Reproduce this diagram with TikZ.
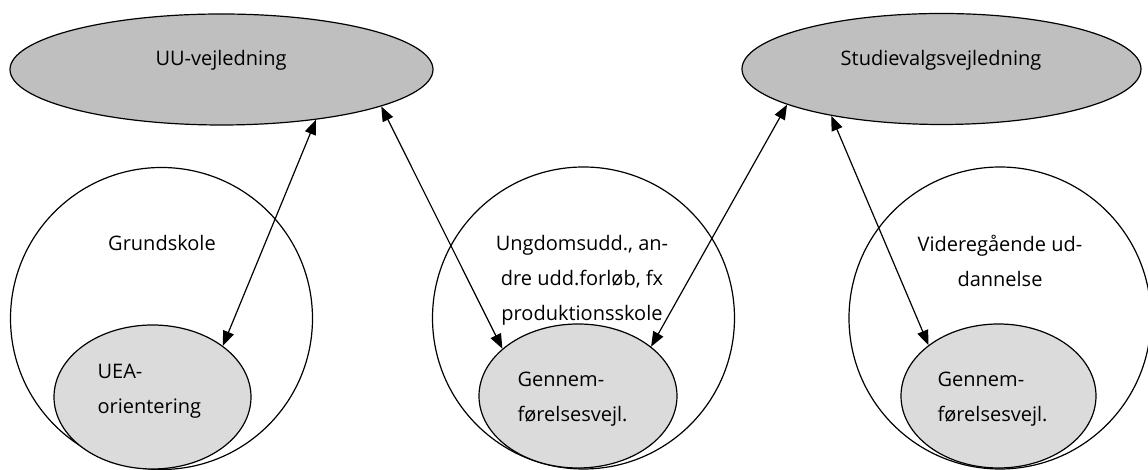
\documentclass[tikz,border=0pt]{standalone}
\usepackage{fontspec}
\setmainfont{Open Sans}
\usepackage{tikz}
\usetikzlibrary{arrows.meta,shapes.geometric}

\begin{document}
\begin{tikzpicture}[x=0.5pt,y=0.5pt,line width=0.6pt,
font=\fontsize{10}{17.5}\selectfont,
vejl/.style={ellipse,draw=black,fill=black!25,inner sep=0pt,minimum width=211pt,minimum height=55.5pt},
skole/.style={circle,draw=black,inner sep=0pt,minimum size=151pt},
indre/.style={ellipse,draw=black,fill=black!14,inner sep=0pt,minimum width=98.5pt,minimum height=72pt},
tekst/.style={inner sep=0pt,align=center},
venstre/.style={inner sep=0pt,align=left,anchor=west},
pil/.style={{Triangle[length=2.6mm,width=2mm]}-{Triangle[length=2.6mm,width=2mm]}}]

\useasboundingbox (0,0) rectangle (1148,470);

\node (UU) at (221.5,400.5) [vejl,minimum width=211.5pt] {};
\node (SV) at (941.5,401) [vejl,minimum width=199.5pt] {};
\node[tekst] (UUT) at (221,410) {UU-vejledning};
\node[tekst] (SVT) at (941,410) {Studievalgsvejledning};

\node (GRUND) at (161.5,151.5) [skole] {};
\node (UNGDOM) at (583.5,152) [skole] {};
\node (VIDERE) at (1000,152) [skole] {};

\node[tekst] (GRUNDT) at (162,227) {Grundskole};
\node[tekst] (UNGDOMT) at (582,190) {Ungdomsudd., an-\\dre udd.forløb, fx\\produktionsskole};
\node[tekst] (VIDERET) at (1000,209.5) {Videregående ud-\\dannelse};

\node (UEA) at (152.5,73) [indre] {};
\node (GENNEMA) at (578,74) [indre,minimum width=99pt] {};
\node (GENNEMB) at (998.5,74) [indre,minimum width=97.5pt] {};

\node[venstre] (UEAT) at (97,78.5) {UEA-\\orientering};
\node[venstre] (GENNEMAT) at (517,70.5) {Gennem-\\førelsesvejl.};
\node[venstre] (GENNEMBT) at (937,70.5) {Gennem-\\førelsesvejl.};

\draw[pil] (UU.-28) -- (UEA.36);
\draw[pil] (UU.-13) -- (GENNEMA.148);
\draw[pil] (SV.-167) -- (GENNEMA.34);
\draw[pil] (SV.-157.5) -- (GENNEMB.144);

\end{tikzpicture}
\end{document}
